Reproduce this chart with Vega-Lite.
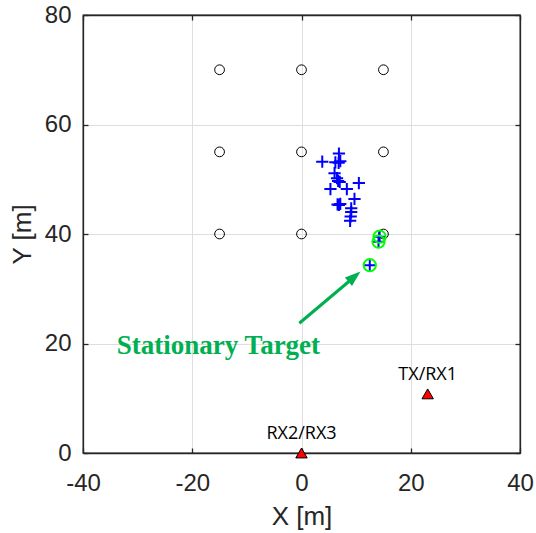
{
  "$schema": "https://vega.github.io/schema/vega-lite/v6.json",
  "width": 437,
  "height": 438,
  "autosize": {"type": "none"},
  "padding": {"left": 83, "top": 15, "right": 16, "bottom": 80},
  "background": "white",
  "config": {
    "view": {"stroke": "#262626", "strokeWidth": 1.3},
    "axis": {
      "labelFont": "Liberation Sans",
      "titleFont": "Liberation Sans",
      "labelColor": "#262626",
      "titleColor": "#262626",
      "labelFontSize": 24,
      "titleFontSize": 26,
      "titleFontWeight": "normal",
      "labelFlush": false,
      "labelOverlap": false,
      "domainColor": "#262626",
      "domainWidth": 1.3,
      "tickColor": "#262626",
      "tickWidth": 1.3,
      "gridColor": "#dedede",
      "gridWidth": 1
    }
  },
  "datasets": {
    "grid": [
      {"x": -15, "y": 70}, {"x": 0, "y": 70}, {"x": 15, "y": 70},
      {"x": -15, "y": 55}, {"x": 0, "y": 55}, {"x": 15, "y": 55},
      {"x": -15, "y": 40}, {"x": 0, "y": 40}, {"x": 15, "y": 40}
    ],
    "est": [
      {"x": 6.85, "y": 54.7}, {"x": 3.8, "y": 53.2}, {"x": 6.2, "y": 53.1},
      {"x": 6.8, "y": 53.0}, {"x": 7.1, "y": 53.3}, {"x": 6.05, "y": 51.1},
      {"x": 6.5, "y": 50.2}, {"x": 6.7, "y": 49.7}, {"x": 7.0, "y": 49.5},
      {"x": 10.5, "y": 49.3}, {"x": 5.3, "y": 48.2}, {"x": 8.3, "y": 48.2},
      {"x": 6.6, "y": 45.4}, {"x": 7.1, "y": 45.5}, {"x": 6.85, "y": 45.3},
      {"x": 9.7, "y": 46.4}, {"x": 9.1, "y": 44.7}, {"x": 9.1, "y": 44.0},
      {"x": 9.0, "y": 43.2}, {"x": 8.9, "y": 42.4},
      {"x": 12.5, "y": 34.3}, {"x": 14.3, "y": 39.5}, {"x": 14.1, "y": 38.6}
    ],
    "stat": [
      {"x": 12.5, "y": 34.3}, {"x": 14.3, "y": 39.5}, {"x": 14.1, "y": 38.6}
    ],
    "nodes": [
      {"x": 0, "y": 0, "name": "RX2/RX3"},
      {"x": 23.1, "y": 10.8, "name": "TX/RX1"}
    ],
    "arrow": [
      {"x": -0.4, "y": 23.7, "x2": 9.0, "y2": 31.6, "tx": 9.7, "ty": 32.2}
    ],
    "note": [
      {"x": -15.2, "y": 18.1, "label": "Stationary Target"}
    ]
  },
  "resolve": {"axis": {"x": "independent", "y": "independent"}},
  "layer": [
    {
      "data": {"name": "grid"},
      "mark": {"type": "point", "shape": "circle", "filled": false, "color": "black", "strokeWidth": 1, "size": 95, "opacity": 1},
      "encoding": {
        "x": {"field": "x", "type": "quantitative",
              "scale": {"domain": [-40, 40], "nice": false, "zero": false},
              "axis": {"orient": "bottom", "values": [-40, -20, 0, 20, 40], "title": "X [m]", "grid": true,
                       "labelExpr": "'' + datum.value",
                       "tickSize": -5, "labelPadding": 23, "titlePadding": 8}},
        "y": {"field": "y", "type": "quantitative",
              "scale": {"domain": [0, 80], "nice": false, "zero": false},
              "axis": {"orient": "left", "values": [0, 20, 40, 60, 80], "title": "Y [m]", "grid": true,
                       "labelExpr": "'' + datum.value",
                       "tickSize": -5, "labelPadding": 17, "titlePadding": 9}}
      }
    },
    {
      "data": {"name": "est"},
      "mark": {"type": "point", "shape": "M-1,0H1M0,-1V1", "filled": false, "color": "#0000ff", "strokeWidth": 2, "size": 150, "opacity": 1},
      "encoding": {
        "x": {"field": "x", "type": "quantitative",
              "axis": {"orient": "top", "values": [-40, -20, 0, 20, 40], "labels": false, "title": null, "grid": false, "tickSize": -5}},
        "y": {"field": "y", "type": "quantitative",
              "axis": {"orient": "right", "values": [0, 20, 40, 60, 80], "labels": false, "title": null, "grid": false, "tickSize": -5}}
      }
    },
    {
      "data": {"name": "stat"},
      "mark": {"type": "point", "shape": "circle", "filled": false, "color": "#00ff00", "strokeWidth": 2, "size": 150, "opacity": 1},
      "encoding": {
        "x": {"field": "x", "type": "quantitative", "axis": null},
        "y": {"field": "y", "type": "quantitative", "axis": null}
      }
    },
    {
      "data": {"name": "nodes"},
      "mark": {"type": "point", "shape": "triangle-up", "filled": true, "fill": "#ff0000", "stroke": "black", "strokeWidth": 1, "size": 130, "opacity": 1},
      "encoding": {
        "x": {"field": "x", "type": "quantitative", "axis": null},
        "y": {"field": "y", "type": "quantitative", "axis": null}
      }
    },
    {
      "data": {"name": "nodes"},
      "mark": {"type": "text", "font": "Open Sans", "fontSize": 18, "color": "black", "dy": -19, "baseline": "middle", "align": "center"},
      "encoding": {
        "x": {"field": "x", "type": "quantitative", "axis": null},
        "y": {"field": "y", "type": "quantitative", "axis": null},
        "text": {"field": "name"}
      }
    },
    {
      "data": {"name": "arrow"},
      "mark": {"type": "rule", "color": "#00b050", "strokeWidth": 3},
      "encoding": {
        "x": {"field": "x", "type": "quantitative", "axis": null},
        "y": {"field": "y", "type": "quantitative", "axis": null},
        "x2": {"field": "x2"},
        "y2": {"field": "y2"}
      }
    },
    {
      "data": {"name": "arrow"},
      "mark": {"type": "point", "shape": "M0,-1L0.7,1L-0.7,1Z", "filled": true, "color": "#00b050", "size": 250, "angle": 50, "opacity": 1},
      "encoding": {
        "x": {"field": "tx", "type": "quantitative", "axis": null},
        "y": {"field": "ty", "type": "quantitative", "axis": null}
      }
    },
    {
      "data": {"name": "note"},
      "mark": {"type": "text", "font": "Liberation Serif", "fontWeight": "bold", "fontSize": 27, "color": "#00b050", "align": "center", "baseline": "alphabetic"},
      "encoding": {
        "x": {"field": "x", "type": "quantitative", "axis": null},
        "y": {"field": "y", "type": "quantitative", "axis": null},
        "text": {"field": "label"}
      }
    }
  ]
}
